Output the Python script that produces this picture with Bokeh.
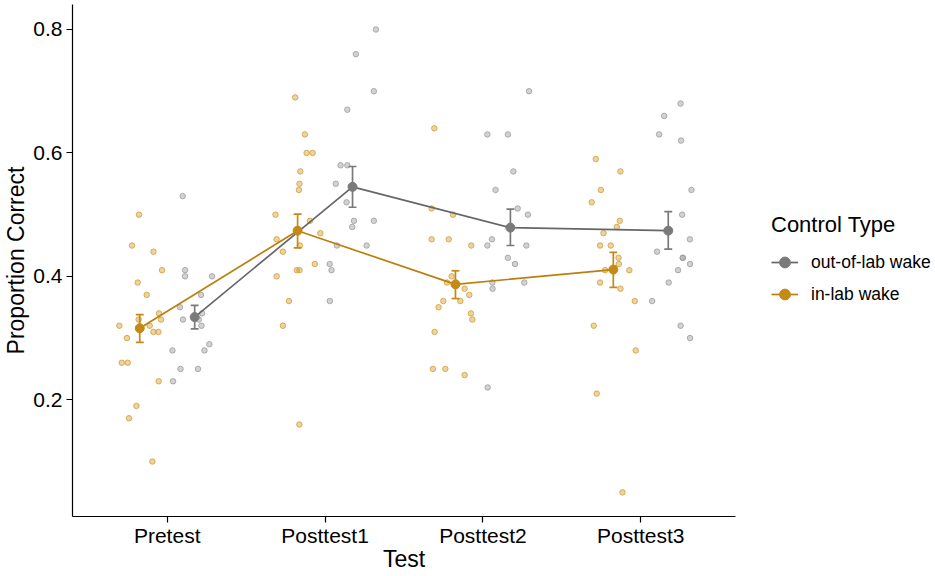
from bokeh.plotting import figure
from bokeh.models import (Range1d, FixedTicker, Legend, LegendItem, ColumnDataSource)
from bokeh.embed import file_html
from bokeh.resources import INLINE

# ---------------- data ----------------
tests = ["Pretest", "Posttest1", "Posttest2", "Posttest3"]
y_ticks = [0.2, 0.4, 0.6, 0.8]
y_tick_labels = ["0.2", "0.4", "0.6", "0.8"]
group_names = ["out-of-lab wake", "in-lab wake"]

# in-lab wake participants (proportion correct) and horizontal jitter
inlab_pre = [0.50, 0.45, 0.44, 0.41, 0.39, 0.37, 0.34, 0.33, 0.33, 0.32, 0.32, 0.31, 0.31, 0.30, 0.26, 0.26, 0.23, 0.19, 0.17, 0.10]
inlab_pre_jit = [-0.179, -0.223, -0.087, -0.033, -0.187, -0.130, -0.052, -0.181, -0.039, -0.303, -0.111, -0.087, -0.056, -0.255, -0.288, -0.250, -0.054, -0.195, -0.242, -0.094]
inlab_p1 = [0.69, 0.63, 0.60, 0.60, 0.57, 0.55, 0.54, 0.50, 0.49, 0.47, 0.46, 0.45, 0.44, 0.42, 0.41, 0.41, 0.40, 0.36, 0.32, 0.16]
inlab_p1_jit = [-0.189, -0.128, -0.117, -0.079, -0.157, -0.162, -0.166, -0.314, -0.096, -0.030, -0.307, -0.160, -0.267, -0.065, -0.179, -0.162, -0.307, -0.229, -0.267, -0.163]
inlab_p2 = [0.64, 0.51, 0.50, 0.46, 0.46, 0.45, 0.40, 0.39, 0.38, 0.37, 0.36, 0.36, 0.35, 0.34, 0.33, 0.31, 0.25, 0.25, 0.24, 0.39]
inlab_p2_jit = [-0.308, -0.325, -0.190, -0.325, -0.217, -0.074, -0.198, -0.228, -0.116, -0.086, -0.251, -0.143, -0.281, -0.076, -0.067, -0.306, -0.317, -0.238, -0.116, -0.173]
inlab_p3 = [0.59, 0.57, 0.54, 0.52, 0.49, 0.48, 0.47, 0.45, 0.45, 0.43, 0.42, 0.41, 0.41, 0.39, 0.38, 0.36, 0.32, 0.28, 0.21, 0.05]
inlab_p3_jit = [-0.285, -0.129, -0.253, -0.311, -0.133, -0.152, -0.236, -0.258, -0.190, -0.141, -0.139, -0.072, -0.226, -0.258, -0.129, -0.038, -0.298, -0.032, -0.279, -0.116]

# out-of-lab wake participants
outlab_pre = [0.53, 0.41, 0.40, 0.40, 0.37, 0.35, 0.34, 0.33, 0.33, 0.32, 0.29, 0.28, 0.28, 0.25, 0.25, 0.23]
outlab_pre_jit = [0.098, 0.113, 0.113, 0.284, 0.214, 0.081, 0.221, 0.100, 0.200, 0.217, 0.267, 0.236, 0.033, 0.084, 0.195, 0.037]
outlab_p1 = [0.80, 0.76, 0.70, 0.67, 0.58, 0.58, 0.55, 0.52, 0.49, 0.49, 0.48, 0.45, 0.45, 0.42, 0.41, 0.36]
outlab_p1_jit = [0.322, 0.195, 0.309, 0.141, 0.098, 0.141, 0.068, 0.136, 0.183, 0.309, 0.172, 0.075, 0.263, 0.029, 0.041, 0.030]
outlab_p2 = [0.70, 0.63, 0.63, 0.57, 0.54, 0.51, 0.50, 0.46, 0.45, 0.45, 0.43, 0.42, 0.39, 0.39, 0.38, 0.22]
outlab_p2_jit = [0.292, 0.028, 0.158, 0.193, 0.080, 0.220, 0.285, 0.057, 0.028, 0.275, 0.158, 0.203, 0.060, 0.262, 0.061, 0.030]
outlab_p3 = [0.68, 0.66, 0.63, 0.62, 0.54, 0.50, 0.46, 0.44, 0.43, 0.43, 0.42, 0.41, 0.39, 0.36, 0.32, 0.30]
outlab_p3_jit = [0.252, 0.148, 0.116, 0.255, 0.321, 0.262, 0.311, 0.103, 0.266, 0.266, 0.312, 0.236, 0.177, 0.072, 0.252, 0.312]

# group means and standard-error bounds
inlab_mean = [0.316, 0.474, 0.387, 0.411]
inlab_lower = [0.293, 0.446, 0.364, 0.382]
inlab_upper = [0.338, 0.501, 0.409, 0.439]
outlab_mean = [0.334, 0.545, 0.479, 0.474]
outlab_lower = [0.315, 0.512, 0.450, 0.444]
outlab_upper = [0.353, 0.578, 0.509, 0.505]

# ---------------- styles ----------------
FONT = "Liberation Sans"
GREY_LINE = "#666666"
GREY_MEAN = "#7a7a7a"
GREY_PT = "#9c9c9c"
GOLD_LINE = "#bd7f0b"
GOLD_MEAN = "#c58a15"
GOLD_PT = "#d39d33"
DODGE = 0.174
CAP = 0.025

p = figure(frame_width=663, frame_height=512,
           x_range=Range1d(0.4, 4.6), y_range=Range1d(0.0109, 0.8405),
           output_backend="svg", toolbar_location=None,
           min_border_left=66, min_border_right=196, min_border_top=4, min_border_bottom=52)
p.background_fill_color = "white"
p.border_fill_color = "white"
p.outline_line_color = None
p.xgrid.visible = False
p.ygrid.visible = False

# jittered participant points
def add_points(vals_list, jit_list, color):
    xs, ys = [], []
    for k, (vals, jit) in enumerate(zip(vals_list, jit_list)):
        for v, j in zip(vals, jit):
            xs.append(k + 1 + j)
            ys.append(v)
    src = ColumnDataSource(dict(x=xs, y=ys))
    p.scatter("x", "y", source=src, size=5.5, fill_color=color, fill_alpha=0.45,
              line_color=color, line_alpha=0.8, line_width=1)

add_points([outlab_pre, outlab_p1, outlab_p2, outlab_p3],
           [outlab_pre_jit, outlab_p1_jit, outlab_p2_jit, outlab_p3_jit], GREY_PT)
add_points([inlab_pre, inlab_p1, inlab_p2, inlab_p3],
           [inlab_pre_jit, inlab_p1_jit, inlab_p2_jit, inlab_p3_jit], GOLD_PT)

def add_summary(mean, lo, hi, off, line_c, mean_c):
    xs = [k + 1 + off for k in range(len(tests))]
    ln = p.line(xs, mean, line_color=line_c, line_width=1.7)
    p.segment(x0=xs, x1=xs, y0=lo, y1=hi, line_color=mean_c, line_width=1.7)
    p.segment(x0=[x - CAP for x in xs], x1=[x + CAP for x in xs], y0=lo, y1=lo,
              line_color=mean_c, line_width=1.7)
    p.segment(x0=[x - CAP for x in xs], x1=[x + CAP for x in xs], y0=hi, y1=hi,
              line_color=mean_c, line_width=1.7)
    pt = p.scatter(xs, mean, size=9, fill_color=mean_c, line_color=mean_c)
    return ln, pt

g_ln, g_pt = add_summary(outlab_mean, outlab_lower, outlab_upper, DODGE, GREY_LINE, GREY_MEAN)
o_ln, o_pt = add_summary(inlab_mean, inlab_lower, inlab_upper, -DODGE, GOLD_LINE, GOLD_MEAN)

# axes
for ax in (p.xaxis[0], p.yaxis[0]):
    ax.axis_line_color = "black"
    ax.axis_line_width = 1.2
    ax.major_tick_line_color = "black"
    ax.major_tick_line_width = 1.2
    ax.major_tick_in = 0
    ax.major_tick_out = 6
    ax.minor_tick_line_color = None
    ax.major_label_text_font = FONT
    ax.major_label_text_font_size = "21px"
    ax.major_label_text_color = "black"
    ax.axis_label_text_font = FONT
    ax.axis_label_text_font_size = "23px"
    ax.axis_label_text_font_style = "normal"
    ax.axis_label_text_color = "black"

p.xaxis.ticker = FixedTicker(ticks=[1, 2, 3, 4])
p.xaxis.major_label_overrides = {i + 1: t for i, t in enumerate(tests)}
p.xaxis.axis_label = "Test"
p.xaxis.major_label_standoff = 1
p.xaxis.axis_label_standoff = -4

p.yaxis.ticker = FixedTicker(ticks=y_ticks)
p.yaxis.major_label_overrides = {t: l for t, l in zip(y_ticks, y_tick_labels)}
p.yaxis.axis_label = "Proportion Correct"
p.yaxis.major_label_standoff = 4
p.yaxis.axis_label_standoff = 1

legend = Legend(items=[LegendItem(label=group_names[0], renderers=[g_ln, g_pt]),
                       LegendItem(label=group_names[1], renderers=[o_ln, o_pt])],
                title="Control Type", location=(36, 206))
legend.title_text_font = FONT
legend.title_text_font_size = "22px"
legend.title_text_font_style = "normal"
legend.title_text_color = "black"
legend.title_standoff = 8
legend.label_text_font = FONT
legend.label_text_font_size = "17.5px"
legend.label_text_color = "black"
legend.glyph_width = 27
legend.glyph_height = 32
legend.label_height = 32
legend.label_standoff = 13
legend.spacing = 0
legend.padding = 0
legend.margin = 0
legend.border_line_color = None
legend.background_fill_alpha = 0
p.add_layout(legend, "right")

open("out.html", "w").write(file_html(p, INLINE))
